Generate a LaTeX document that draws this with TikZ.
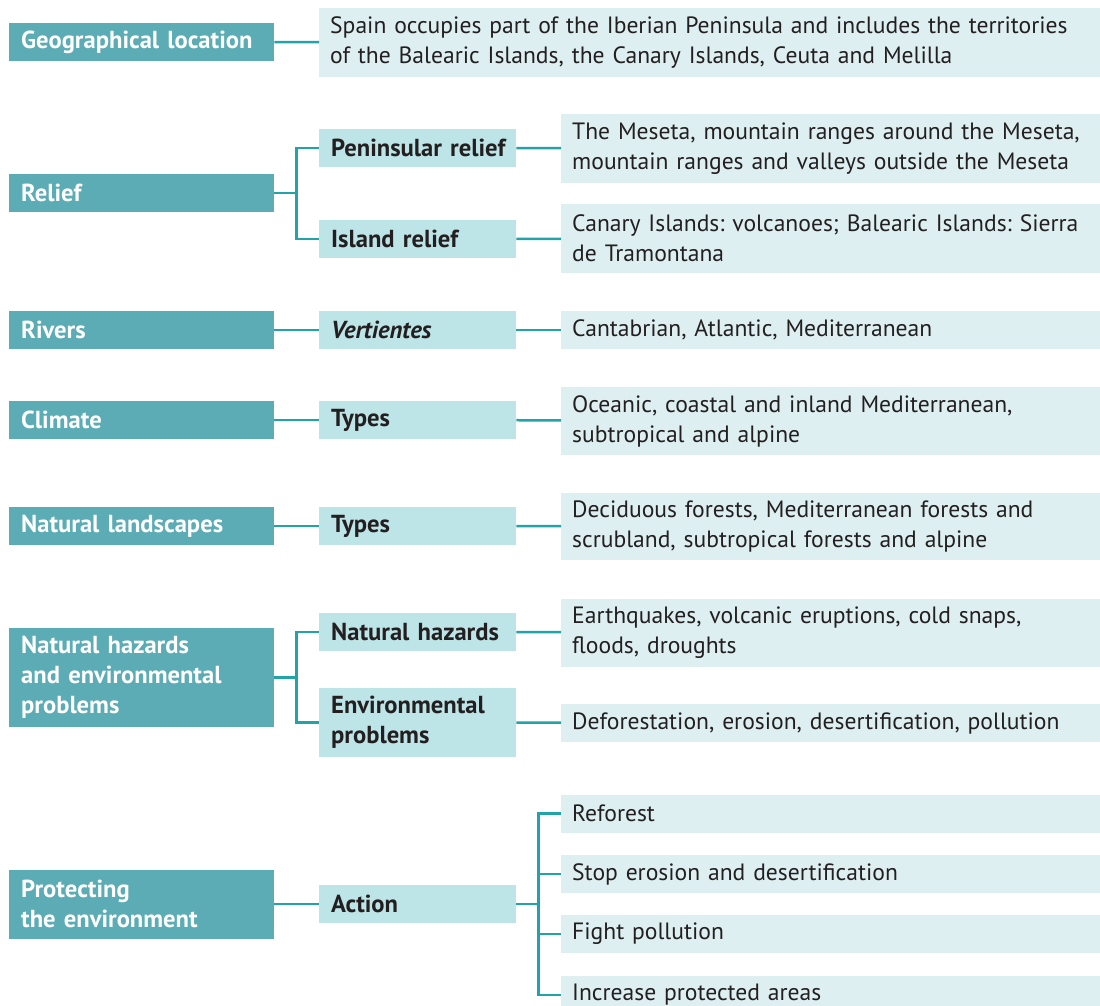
\documentclass[tikz,border=0pt]{standalone}
\usepackage{fontspec}
\setmainfont{PT Sans}
\frenchspacing

\definecolor{topicfill}{HTML}{5BACB4}
\definecolor{subfill}{HTML}{BDE4E7}
\definecolor{detailfill}{HTML}{DDEFF1}
\definecolor{linkcol}{HTML}{22A3A8}
\definecolor{inkcol}{HTML}{231F20}

\tikzset{
  topic/.style={fill=topicfill, text=white, font=\bfseries\fontsize{24.6}{30}\selectfont,
    anchor=west, align=left, text width=241pt, inner xsep=12pt, inner ysep=0pt, minimum height=38pt},
  sub/.style={fill=subfill, text=inkcol, font=\bfseries\fontsize{24.6}{30}\selectfont,
    anchor=west, align=left, text width=173pt, inner xsep=12pt, inner ysep=0pt, minimum height=38pt},
  detail/.style={fill=detailfill, text=inkcol, font=\fontsize{23.6}{30}\selectfont,
    anchor=west, align=left, text width=517pt, inner xsep=11pt, inner ysep=0pt, minimum height=38pt},
  link/.style={draw=linkcol, line width=2.5pt}
}

\begin{document}
\begin{tikzpicture}[x=1pt, y=-1pt]
    \useasboundingbox (0,0) rectangle (1100,1006);
    \clip (0,0) rectangle (1100,1006);

    % geographical location
    \node[topic] (geo) at (9,42) {Geographical location};
    \node[detail, text width=759pt, minimum height=69pt] (geoD) at (319,42.5) {Spain occupies part of the Iberian Peninsula and includes the territories\\of the Balearic Islands, the Canary Islands, Ceuta and Melilla};
    \draw[link] (geo) -- (geoD);

    % relief
    \node[topic] (relief) at (9,193) {Relief};
    \node[sub] (penin) at (319,148) {\mbox{Peninsular relief}};
    \node[sub] (island) at (319,239) {Island relief};
    \node[detail, minimum height=69pt] (peninD) at (561,148.5) {The Meseta, mountain ranges around the Meseta,\\mountain ranges and valleys outside the Meseta};
    \node[detail, minimum height=69pt] (islandD) at (561,238.5) {Canary Islands: volcanoes; Balearic Islands: Sierra\\de Tramontana};
    \draw[link] (relief.east) -- ++(22,0) |- (penin.west);
    \draw[link] (relief.east) -- ++(22,0) |- (island.west);
    \draw[link] (penin) -- (peninD);
    \draw[link] (island) -- (islandD);

    % rivers
    \node[topic] (rivers) at (9,330) {Rivers};
    \node[sub, font=\bfseries\itshape\fontsize{24.6}{30}\selectfont] (vert) at (319,330) {Vertientes};
    \node[detail] (vertD) at (561,330) {Cantabrian, Atlantic, Mediterranean};
    \draw[link] (rivers) -- (vert);
    \draw[link] (vert) -- (vertD);

    % climate
    \node[topic] (climate) at (9,420) {Climate};
    \node[sub] (climT) at (319,420) {Types};
    \node[detail, minimum height=68pt] (climD) at (561,421) {Oceanic, coastal and inland Mediterranean,\\subtropical and alpine};
    \draw[link] (climate) -- (climT);
    \draw[link] (climT) -- (climD);

    % natural landscapes
    \node[topic] (land) at (9,526) {Natural landscapes};
    \node[sub] (landT) at (319,526) {Types};
    \node[detail, minimum height=67pt] (landD) at (561,526.5) {Deciduous forests, Mediterranean forests and\\scrubland, subtropical forests and alpine};
    \draw[link] (land) -- (landT);
    \draw[link] (landT) -- (landD);

    % hazards and problems
    \node[topic, minimum height=99pt] (hazard) at (9,677.5) {Natural hazards\\and environmental\\problems};
    \node[sub] (natH) at (319,632) {\mbox{Natural hazards}};
    \node[sub, minimum height=69pt] (envP) at (319,722.5) {Environmental\\problems};
    \node[detail, minimum height=68pt] (natHD) at (561,632.5) {Earthquakes, volcanic eruptions, cold snaps,\\floods, droughts};
    \node[detail] (envPD) at (561,723) {Deforestation, erosion, desertification, pollution};
    \draw[link] (hazard.east) -- ++(22,0) |- (natH.west);
    \draw[link] (hazard.east) -- ++(22,0) |- (envP.west);
    \draw[link] (natH) -- (natHD);
    \draw[link] (envP) -- (envPD);

    % protecting the environment
    \node[topic, minimum height=69pt] (protect) at (9,904) {Protecting\\the environment};
    \node[sub] (action) at (319,904) {Action};
    \node[detail] (act1) at (561,813.5) {Reforest};
    \node[detail] (act2) at (561,874) {Stop erosion and desertification};
    \node[detail] (act3) at (561,934) {Fight pollution};
    \node[detail] (act4) at (561,995) {Increase protected areas};
    \draw[link] (protect) -- (action);
    \foreach \n in {act1,act2,act3,act4}
        \draw[link] (action.east) -- ++(22,0) |- (\n.west);
\end{tikzpicture}
\end{document}
